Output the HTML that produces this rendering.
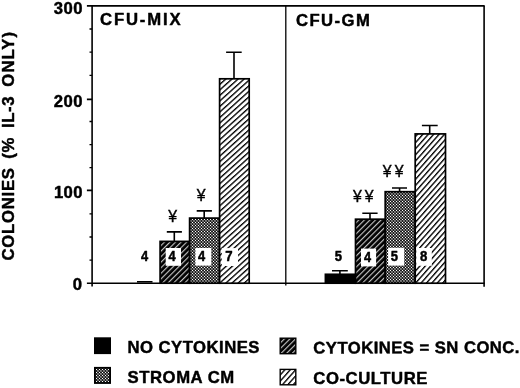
<!DOCTYPE html>
<html>
<head>
<meta charset="utf-8">
<title>CFU-MIX / CFU-GM colonies</title>
<style>
  html, body { margin: 0; padding: 0; background: #ffffff; }
  body { width: 520px; height: 388px; overflow: hidden; }
  svg { display: block; }
  text { font-family: "Liberation Sans", sans-serif; fill: #000; }
  .b { stroke: #000; stroke-width: 0.45px; stroke-linejoin: round; }
  svg { will-change: transform; transform: translateZ(0); }
  .b { font-weight: bold; }
  .t17 { font-size: 16.7px; }
  .t15 { font-size: 15px; stroke-width: 0.5px; }
  .yen { font-size: 15.8px; font-weight: normal; stroke: #000; stroke-width: 0.4px; }
</style>
</head>
<body>
<svg width="520" height="388" viewBox="0 0 520 388">
  <defs>
    <pattern id="hl" patternUnits="userSpaceOnUse" width="4.1" height="10" patternTransform="rotate(48)">
      <rect x="0" y="0" width="4.1" height="10" fill="#fff"/>
      <rect x="0" y="0" width="1.35" height="10" fill="#000"/>
    </pattern>
    <pattern id="hl2" patternUnits="userSpaceOnUse" width="4.05" height="10" patternTransform="rotate(41.5)">
      <rect x="0" y="0" width="4.05" height="10" fill="#fff"/>
      <rect x="0" y="0" width="1.35" height="10" fill="#000"/>
    </pattern>
    <pattern id="hd" patternUnits="userSpaceOnUse" width="3.93" height="10" patternTransform="rotate(45)">
      <rect x="0" y="0" width="3.93" height="10" fill="#000"/>
      <rect x="0" y="0" width="1.15" height="10" fill="#c4c4c4"/>
    </pattern>
    <pattern id="dt" patternUnits="userSpaceOnUse" width="3" height="3" shape-rendering="crispEdges">
      <rect x="0" y="0" width="1" height="1" fill="#ffffff"/>
      <rect x="1" y="0" width="1" height="1" fill="#1f1f1f"/>
      <rect x="2" y="0" width="1" height="1" fill="#1f1f1f"/>
      <rect x="0" y="1" width="1" height="1" fill="#1f1f1f"/>
      <rect x="1" y="1" width="1" height="1" fill="#808080"/>
      <rect x="2" y="1" width="1" height="1" fill="#6b6b6b"/>
      <rect x="0" y="2" width="1" height="1" fill="#1f1f1f"/>
      <rect x="1" y="2" width="1" height="1" fill="#6b6b6b"/>
      <rect x="2" y="2" width="1" height="1" fill="#6b6b6b"/>
    </pattern>
  </defs>
  <rect x="0" y="0" width="520" height="388" fill="#fff"/>

  <!-- frame -->
  <g stroke="#000" fill="none" stroke-width="1.6">
    <path d="M86.9,5.9 H484.7"/>
    <path d="M92.1,5.9 V286.5"/>
    <path d="M484.1,5.9 V286.7"/>
    <path d="M86.9,283.2 H484.7"/>
    <path d="M285.8,5.9 V285.6" stroke-width="1.3"/>
    <!-- major ticks -->
    <path d="M86.9,99.4 H92.1 M86.9,190.4 H92.1"/>
    <!-- minor ticks -->
    <path d="M89.5,29 H92.1 M89.5,52.1 H92.1 M89.5,75.3 H92.1 M89.5,121.5 H92.1 M89.5,144.6 H92.1 M89.5,167.7 H92.1 M89.5,213.9 H92.1 M89.5,237 H92.1 M89.5,260.1 H92.1" stroke-width="1.3"/>
  </g>

  <!-- axis labels -->
  <g class="b t17">
    <text x="53.8" y="13.9" letter-spacing="0.4">300</text>
    <text x="53.8" y="106.8" letter-spacing="0.4">200</text>
    <text x="53.9" y="198" letter-spacing="0.4">100</text>
    <text x="72.7" y="290.3">0</text>
    <text x="100" y="25.3" letter-spacing="1.85">CFU-MIX</text>
    <text x="295.9" y="26" letter-spacing="1.45">CFU-GM</text>
  </g>

  <!-- vertical title -->
  <g class="b t17" transform="translate(14.2,0) rotate(-90)">
    <text x="-260.6" y="0" letter-spacing="0.77">COLONIES</text>
    <text x="-158.7" y="0" letter-spacing="0.6">(%</text>
    <text x="-127.9" y="0" letter-spacing="0.55">IL-3</text>
    <text x="-86.7" y="0" letter-spacing="1.1">ONLY)</text>
  </g>

  <!-- bars: CFU-MIX -->
  <g stroke="#000" stroke-width="1.7">
    <rect x="160.1" y="241.4" width="29.5" height="41.8" fill="url(#hd)"/>
    <rect x="189.6" y="218.1" width="30" height="65.1" fill="url(#dt)"/>
    <rect x="219.6" y="78.8" width="29.6" height="204.4" fill="url(#hl)"/>
    <!-- CFU-GM -->
    <rect x="325.4" y="274.3" width="29.8" height="8.9" fill="#000"/>
    <rect x="355.5" y="219.2" width="29.7" height="64" fill="url(#hd)"/>
    <rect x="385.2" y="191.7" width="30" height="91.5" fill="url(#dt)"/>
    <rect x="415.2" y="133.9" width="30.3" height="149.3" fill="url(#hl2)"/>
  </g>

  <!-- error bars -->
  <g stroke="#000" fill="none" stroke-width="1.6">
    <path d="M137,281.8 H152.5"/>
    <path d="M166.8,231.9 H181.9 M174.3,231.9 V241.5" />
    <path d="M196.7,210.9 H211.9 M204.2,210.9 V218" />
    <path d="M226.1,52.3 H241.7 M234,52.3 V78.8" />
    <path d="M332,270.7 H347.8 M339.9,270.7 V274.3" />
    <path d="M362.3,213.3 H377.6 M370,213.3 V219.5" />
    <path d="M392,188 H407 M399.6,188 V191.7" />
    <path d="M421.9,125.5 H437.7 M429.7,125.5 V133.9" />
  </g>

  <!-- number boxes -->
  <g fill="#fff">
    <rect x="165.7" y="248" width="15.3" height="17.8"/>
    <rect x="195.4" y="248" width="15.9" height="17.6"/>
    <rect x="221.8" y="248.1" width="16.2" height="17.9"/>
    <rect x="361" y="248.6" width="15.1" height="17.8"/>
    <rect x="388.1" y="247.8" width="16.1" height="17.8"/>
    <rect x="416.3" y="248" width="15.5" height="17.8"/>
  </g>
  <g class="b t15">
    <text transform="translate(141.1,261) scale(0.86,1)">4</text>
    <text transform="translate(168.5,261.2) scale(0.86,1)">4</text>
    <text transform="translate(198,261.1) scale(0.86,1)">4</text>
    <text transform="translate(225.3,261.1) scale(0.88,1)">7</text>
    <text transform="translate(334.8,260.8) scale(0.87,1)">5</text>
    <text transform="translate(364,261.6) scale(0.85,1)">4</text>
    <text transform="translate(390.8,260.9) scale(0.87,1)">5</text>
    <text transform="translate(419.9,260.9) scale(0.88,1)">8</text>
  </g>

  <!-- yen marks -->
  <g class="yen">
    <text x="168.3" y="221.6">¥</text>
    <text x="196.85" y="200.6">¥</text>
    <text x="352.9" y="201.5">¥</text>
    <text x="364.8" y="201.5">¥</text>
    <text x="382.85" y="176.6">¥</text>
    <text x="394.7" y="176.6">¥</text>
  </g>

  <!-- legend -->
  <rect x="94" y="337.3" width="17" height="16.8" fill="#000"/>
  <rect x="94.9" y="367.8" width="15.2" height="15.2" fill="url(#dt)" stroke="#000" stroke-width="1.8"/>
  <rect x="280.2" y="338.2" width="15.6" height="15.5" fill="url(#hd)" stroke="#000" stroke-width="1.4"/>
  <rect x="280.2" y="369.4" width="15.6" height="15.4" fill="url(#hl2)" stroke="#000" stroke-width="1.4"/>
  <g class="b t17">
    <text x="127.5" y="353.4" letter-spacing="0.47">NO CYTOKINES</text>
    <text x="127.6" y="382.6" letter-spacing="0.55">STROMA CM</text>
    <text x="313.3" y="353.5" letter-spacing="0.45" transform="rotate(-0.17 314 353)">CYTOKINES = SN CONC.</text>
    <text x="313.3" y="383.8" letter-spacing="0.56">CO-CULTURE</text>
  </g>
</svg>
</body>
</html>
